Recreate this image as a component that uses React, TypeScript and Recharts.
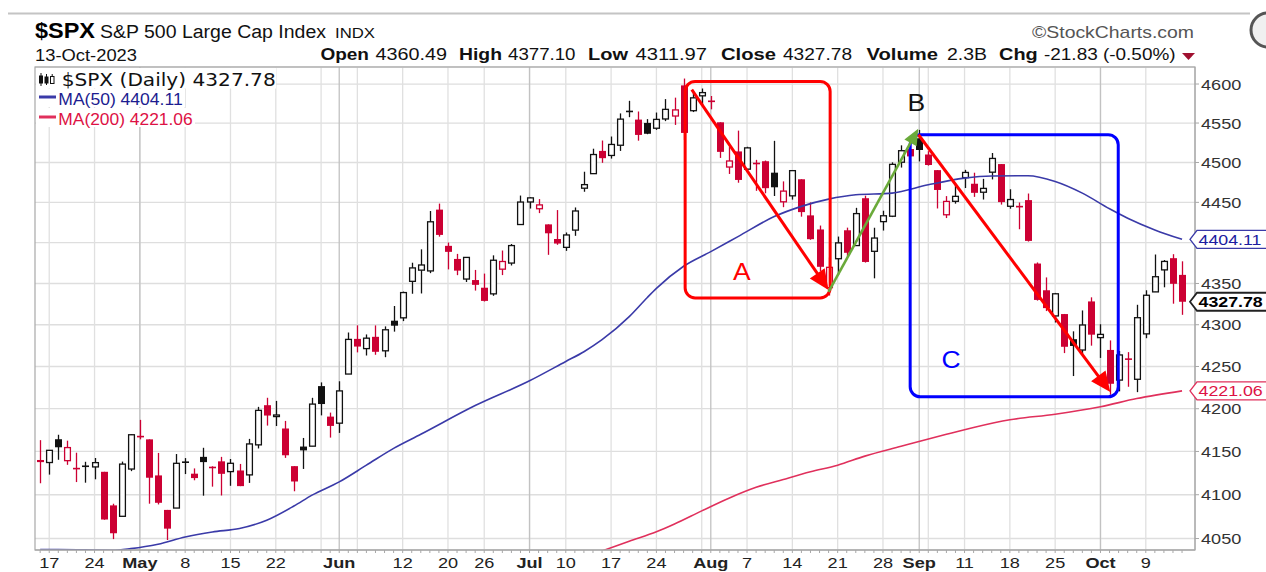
import React from "react";
import {
  ComposedChart,
  Bar,
  Line,
  XAxis,
  YAxis,
  CartesianGrid,
  ReferenceLine,
  ReferenceArea,
  ReferenceDot,
} from "recharts";

// daily candles, 14-Apr-2023 .. 13-Oct-2023 (index = trading day)
const opens = [
  4140.11, 4137.17, 4164.26, 4139.33, 4130.48, 4132.14, 4132.07, 4126.43, 4087.78, 4075.29,
  4129.63, 4166.79, 4164.1, 4122.25, 4082.61, 4084.73, 4136.98, 4124.25, 4143.74, 4132.24,
  4138.54, 4126.65, 4127.95, 4122.85, 4157.68, 4204.15, 4190.78, 4176.8, 4132.96, 4155.71,
  4156.16, 4226.71, 4190.74, 4183.03, 4241.01, 4282.99, 4271.34, 4285.47, 4268.69, 4304.88,
  4308.32, 4352.61, 4366.29, 4365.33, 4440.95, 4396.11, 4380.01, 4355.4, 4354.17, 4344.84,
  4337.36, 4367.48, 4374.94, 4422.44, 4450.48, 4442.04, 4422.62, 4404.54, 4394.23, 4415.55,
  4467.69, 4485.93, 4514.61, 4508.86, 4521.78, 4563.87, 4554.38, 4550.16, 4543.39, 4555.19,
  4558.96, 4598.26, 4565.75, 4584.82, 4578.83, 4550.93, 4494.27, 4513.96, 4491.58, 4498.03,
  4501.57, 4487.16, 4450.69, 4458.13, 4478.87, 4433.79, 4416.32, 4344.88, 4380.28, 4415.33,
  4396.44, 4455.16, 4389.38, 4426.03, 4432.75, 4500.34, 4517.01, 4530.6, 4510.06, 4490.35,
  4434.55, 4451.3, 4480.98, 4473.27, 4462.65, 4487.78, 4497.98, 4445.13, 4445.41, 4452.81,
  4374.36, 4341.74, 4310.62, 4312.88, 4282.63, 4269.65, 4328.18, 4284.52, 4269.75, 4233.83,
  4259.31, 4234.79, 4289.02, 4339.75, 4366.59, 4380.94, 4360.49,
];
const highs = [
  4163.19, 4151.72, 4169.48, 4162.57, 4148.57, 4138.02, 4142.41, 4126.43, 4089.67, 4138.24,
  4170.06, 4186.92, 4164.1, 4148.3, 4082.61, 4147.02, 4142.3, 4130.35, 4154.28, 4132.8,
  4143.74, 4141.25, 4135.54, 4164.67, 4202.2, 4212.91, 4209.22, 4185.68, 4132.96, 4165.74,
  4212.87, 4231.1, 4195.44, 4232.43, 4290.67, 4299.28, 4288.33, 4299.19, 4298.01, 4322.62,
  4340.13, 4375.37, 4391.82, 4439.2, 4448.47, 4400.15, 4386.22, 4382.25, 4366.55, 4362.06,
  4384.42, 4390.35, 4398.39, 4458.48, 4456.46, 4454.06, 4422.62, 4440.39, 4412.6, 4443.64,
  4488.34, 4517.38, 4527.76, 4532.85, 4562.3, 4578.43, 4564.74, 4555.0, 4563.41, 4580.62,
  4582.47, 4607.07, 4590.16, 4594.22, 4584.62, 4550.93, 4519.49, 4540.34, 4519.84, 4503.31,
  4502.44, 4527.37, 4476.23, 4490.33, 4478.87, 4449.95, 4421.17, 4381.82, 4407.55, 4418.59,
  4443.18, 4458.3, 4418.46, 4439.56, 4500.14, 4521.65, 4532.26, 4541.25, 4514.29, 4490.35,
  4457.81, 4473.53, 4490.77, 4487.11, 4479.39, 4511.99, 4497.98, 4466.36, 4449.85, 4461.03,
  4375.7, 4357.4, 4338.51, 4313.01, 4292.07, 4317.27, 4333.15, 4300.58, 4281.15, 4268.5,
  4267.13, 4324.1, 4341.73, 4385.46, 4378.64, 4385.85, 4377.1,
];
const lows = [
  4113.2, 4123.18, 4140.36, 4134.49, 4114.57, 4113.86, 4117.77, 4071.38, 4049.35, 4075.29,
  4127.18, 4164.12, 4089.72, 4088.86, 4048.28, 4084.73, 4123.81, 4116.65, 4098.92, 4109.29,
  4099.12, 4110.27, 4109.86, 4113.62, 4153.5, 4180.2, 4179.68, 4142.54, 4103.98, 4129.73,
  4156.16, 4192.18, 4166.15, 4171.64, 4241.01, 4266.82, 4263.09, 4263.96, 4261.07, 4291.7,
  4304.37, 4337.51, 4337.85, 4362.6, 4407.44, 4367.19, 4360.14, 4351.82, 4341.34, 4328.08,
  4335.0, 4360.22, 4371.97, 4422.44, 4442.29, 4436.61, 4385.05, 4397.4, 4389.92, 4408.46,
  4463.23, 4485.93, 4499.56, 4504.9, 4514.59, 4557.48, 4527.56, 4535.79, 4541.29, 4552.42,
  4547.58, 4528.56, 4564.01, 4573.14, 4567.53, 4505.75, 4485.54, 4474.55, 4491.15, 4464.39,
  4461.33, 4457.92, 4443.98, 4453.44, 4432.19, 4403.55, 4364.83, 4335.31, 4360.3, 4382.77,
  4396.44, 4375.55, 4356.29, 4414.98, 4431.68, 4493.59, 4507.39, 4501.35, 4496.01, 4442.38,
  4430.46, 4448.38, 4467.89, 4456.83, 4453.52, 4478.69, 4447.21, 4442.11, 4416.61, 4401.38,
  4329.17, 4316.49, 4302.7, 4265.98, 4238.63, 4264.38, 4274.86, 4260.21, 4216.45, 4220.48,
  4225.91, 4219.55, 4283.79, 4339.64, 4345.34, 4325.43, 4311.97,
];
const closes = [
  4137.64, 4151.32, 4154.87, 4154.52, 4129.79, 4133.52, 4137.04, 4071.63, 4055.99, 4135.35,
  4169.48, 4167.87, 4119.58, 4090.75, 4061.22, 4136.25, 4138.12, 4119.17, 4137.64, 4130.62,
  4124.08, 4136.28, 4109.9, 4158.77, 4198.05, 4191.98, 4192.63, 4145.58, 4115.24, 4151.28,
  4205.45, 4205.52, 4179.83, 4221.02, 4282.37, 4273.79, 4283.85, 4267.52, 4293.93, 4298.86,
  4338.93, 4369.01, 4372.59, 4425.84, 4409.59, 4388.71, 4365.69, 4381.89, 4348.33, 4328.82,
  4378.41, 4376.86, 4396.44, 4450.38, 4455.59, 4446.82, 4411.59, 4398.95, 4409.53, 4439.26,
  4472.16, 4510.04, 4505.42, 4522.79, 4554.98, 4565.72, 4534.87, 4536.34, 4554.64, 4567.46,
  4566.75, 4537.41, 4582.23, 4588.96, 4576.73, 4513.39, 4501.89, 4478.03, 4518.44, 4499.38,
  4467.71, 4468.83, 4464.05, 4489.72, 4437.86, 4404.33, 4370.36, 4369.71, 4399.77, 4387.55,
  4436.01, 4376.31, 4405.71, 4433.31, 4497.63, 4514.87, 4507.66, 4515.77, 4496.83, 4465.48,
  4451.14, 4457.49, 4487.46, 4461.9, 4467.44, 4505.1, 4450.32, 4453.53, 4443.95, 4402.2,
  4330.0, 4320.06, 4337.44, 4273.53, 4274.51, 4299.7, 4288.05, 4288.39, 4229.45, 4263.75,
  4258.19, 4308.5, 4335.66, 4358.24, 4376.95, 4349.61, 4327.78,
];
const priorClose = 4146.22; // 13-Apr close, for the colour of the first candle

// moving averages at these trading days
const ma50Days = [0, 2, 8, 10, 13, 16, 19, 22, 25, 28, 30, 33, 36, 39, 42, 48, 54, 58, 60, 62, 65, 67, 68, 71, 74, 77, 81, 84, 87, 90, 94, 98, 102, 105, 109, 112, 115, 118, 120, 123, 126];
const ma50Values = [4037.5, 4037.5, 4036.8, 4038.6, 4043.5, 4051.8, 4057.5, 4061.4, 4070.8, 4087, 4099.5, 4114.8, 4134.1, 4153.6, 4170, 4203.7, 4233, 4256, 4267.6, 4282, 4309.8, 4333, 4344, 4371, 4389, 4407.5, 4432.3, 4445, 4454, 4459.4, 4461.5, 4471.9, 4480.3, 4483, 4483.3, 4476.1, 4461.5, 4442, 4430.3, 4415.8, 4404.11];
const ma200Days = [62, 65, 68, 70, 73, 76, 79, 82, 85, 88, 91, 95, 100, 103, 107, 112, 117, 121, 126];
const ma200Values = [4035.9, 4047, 4057.6, 4066.5, 4081.5, 4096, 4108.5, 4117.6, 4126.4, 4134.1, 4144.6, 4156, 4170, 4178, 4187, 4193.5, 4202.3, 4212, 4221.06];

const weekDays = [1, 6, 11, 16, 21, 26, 31, 35, 40, 45, 49, 54, 58, 63, 68, 73, 78, 83, 88, 93, 98, 102, 107, 112, 117, 122];
const monthDays = [11, 33, 54, 74, 97, 117];
const xLabelDays = [1, 6, 11, 16, 21, 26, 33, 40, 45, 49, 54, 58, 63, 68, 74, 78, 83, 88, 93, 97, 102, 107, 112, 117, 122];
const xLabels = ["17", "24", "May", "8", "15", "22", "Jun", "12", "20", "26", "Jul", "10", "17", "24", "Aug", "7", "14", "21", "28", "Sep", "11", "18", "25", "Oct", "9"];
const priceTicks = [4050, 4100, 4150, 4200, 4250, 4300, 4350, 4400, 4450, 4500, 4550, 4600];
const hiddenPriceTicks = [4400];

const RED = "#cc0033";
const BLACK = "#111";
const MA50_COLOR = "#3a3aa8";
const MA200_COLOR = "#e0305c";
const SANS = "'Liberation Sans', Arial, sans-serif";
const SX = 1.17;

const X_DOMAIN: [number, number] = [-0.57, 127.43];
const Y_DOMAIN: [number, number] = [4037, 4622];

const rows = closes.map((c, i) => {
  const k50 = ma50Days.indexOf(i);
  const k200 = ma200Days.indexOf(i);
  return {
    day: i,
    open: opens[i],
    high: highs[i],
    low: lows[i],
    close: c,
    prevClose: i === 0 ? priorClose : closes[i - 1],
    range: [lows[i], highs[i]],
    ma50: k50 >= 0 ? ma50Values[k50] : null,
    ma200: k200 >= 0 ? ma200Values[k200] : null,
  };
});
const allDays = rows.map((r) => r.day);
const last = rows[rows.length - 1];
const chg = last.close - last.prevClose;

function Candle(props: any) {
  const { x, y, width, height, payload } = props;
  if (x == null || !payload) return <g />;
  const { open, high, low, close, prevClose } = payload;
  const cx = Math.round(x + width / 2) + 0.5;
  const top = y;
  const bottom = y + height;
  const lh = Math.log(high);
  const ll = Math.log(low);
  const toY = (v: number) =>
    lh === ll ? top : top + ((lh - Math.log(v)) / (lh - ll)) * (bottom - top);
  const color = close >= prevClose ? BLACK : RED;
  const hollow = close >= open;
  const yO = toY(open);
  const yC = toY(close);
  const bTop = Math.min(yO, yC);
  const bBot = Math.max(yO, yC);
  const half = 3.5;
  let body;
  if (bBot - bTop < 1.5) {
    body = <line x1={cx - half} x2={cx + half} y1={(bTop + bBot) / 2} y2={(bTop + bBot) / 2} stroke={color} strokeWidth={1.6} />;
  } else if (hollow) {
    body = <rect x={cx - half + 0.6} y={bTop} width={2 * half - 1.2} height={bBot - bTop} fill="#fff" stroke={color} strokeWidth={1.3} />;
  } else {
    body = <rect x={cx - half} y={bTop} width={2 * half} height={bBot - bTop} fill={color} />;
  }
  return (
    <g>
      <line x1={cx} x2={cx} y1={top} y2={bottom} stroke={color} strokeWidth={1.3} />
      {body}
    </g>
  );
}

function PriceTick(props: any) {
  const { x, y, payload } = props;
  if (hiddenPriceTicks.includes(payload.value)) return <g />;
  return (
    <text transform={`translate(${x},${y + 5.5}) scale(${SX},1)`} fontSize={15.5} fill="#333" fontFamily={SANS}>
      {payload.value}
    </text>
  );
}

function DayTick(props: any) {
  const { x, y, payload } = props;
  const k = xLabelDays.indexOf(payload.value);
  if (k < 0) return <g />;
  const lab = xLabels[k];
  const bold = /[A-Za-z]/.test(lab);
  return (
    <text transform={`translate(${x},${y + 13}) scale(${SX},1)`} textAnchor="middle" fontSize={15.5} fontWeight={bold ? 700 : 400} fill="#222" fontFamily={SANS}>
      {lab}
    </text>
  );
}

function arrowShape(color: string, w: number, head: number, half: number) {
  return (p: any) => {
    const { x1, y1, x2, y2 } = p;
    const dx = x2 - x1;
    const dy = y2 - y1;
    const len = Math.hypot(dx, dy) || 1;
    const ux = dx / len;
    const uy = dy / len;
    const bx = x2 - ux * head;
    const by = y2 - uy * head;
    return (
      <g>
        <line x1={x1} y1={y1} x2={bx + ux} y2={by + uy} stroke={color} strokeWidth={w} />
        <polygon points={`${x2},${y2} ${bx - uy * half},${by + ux * half} ${bx + uy * half},${by - ux * half}`} fill={color} />
      </g>
    );
  };
}

function boxShape(color: string) {
  return (p: any) => (
    <rect x={p.x} y={p.y} width={p.width} height={p.height} rx={10} ry={10} fill="none" stroke={color} strokeWidth={3} />
  );
}

function letterShape(text: string, color: string) {
  return (p: any) => (
    <text transform={`translate(${p.cx},${p.cy + 8}) scale(1.15,1)`} textAnchor="middle" fontSize={23} fill={color} fontFamily={SANS}>
      {text}
    </text>
  );
}

function tagShape(value: string, stroke: string, color: string, bold: boolean) {
  return (p: any) => {
    const x0 = p.cx - 5;
    const cy = p.cy;
    const h = 9;
    return (
      <g>
        <polygon points={`${x0},${cy} ${x0 + 7},${cy - h} ${x0 + 90},${cy - h} ${x0 + 90},${cy + h} ${x0 + 7},${cy + h}`} fill="#fff" stroke={stroke} strokeWidth={bold ? 1.8 : 1.4} />
        <text transform={`translate(${x0 + 8.5},${cy + 5.5}) scale(${SX},1)`} fontSize={15.2} fontWeight={bold ? 700 : 400} fill={color} fontFamily={SANS}>
          {value}
        </text>
      </g>
    );
  };
}

const headerParts: [string, number, number, boolean][] = [
  ["Open", 320.4, 48.6, true],
  [last.open.toFixed(2), 375.5, 71.5, false],
  ["High", 459, 43, true],
  [last.high.toFixed(2), 508, 67.5, false],
  ["Low", 588, 40, true],
  [last.low.toFixed(2), 635.5, 71.5, false],
  ["Close", 721, 55, true],
  [last.close.toFixed(2), 783, 69, false],
  ["Volume", 866.5, 71.5, true],
  ["2.3B", 947, 40, false],
  ["Chg", 999, 38.7, true],
  [`${chg.toFixed(2)} (${((chg / last.prevClose) * 100).toFixed(2)}%)`, 1044, 131.6, false],
];

function Header() {
  return (
    <svg width={1266} height={66} style={{ position: "absolute", left: 0, top: 0 }}>
      <line x1={8} x2={1250} y1={13.5} y2={13.5} stroke="#c4c4c4" strokeWidth={2} />
      <circle cx={1268} cy={30} r={17} fill="#f0f0f0" stroke="#555" strokeWidth={3} />
      <text x={35} y={38} fontSize={22} fontWeight={700} fontFamily={SANS} textLength={60} lengthAdjust="spacingAndGlyphs">$SPX</text>
      <text x={100} y={38} fontSize={18} fontFamily={SANS} fill="#111" textLength={226} lengthAdjust="spacingAndGlyphs">S&amp;P 500 Large Cap Index</text>
      <text x={335} y={38} fontSize={15} fontFamily={SANS} fill="#111" textLength={40} lengthAdjust="spacingAndGlyphs">INDX</text>
      <text x={35} y={61} fontSize={16} fontFamily={SANS} fill="#111" textLength={102} lengthAdjust="spacingAndGlyphs">13-Oct-2023</text>
      {headerParts.map(([t, x, w, b]) => (
        <text key={t + x} x={x} y={60} fontSize={17} fontWeight={b ? 700 : 400} fontFamily={SANS} fill="#111" textLength={w} lengthAdjust="spacingAndGlyphs">
          {t}
        </text>
      ))}
      <polygon points="1182,53 1195,53 1188.5,60" fill="#a01030" />
      <text x={1032} y={38} fontSize={17} fontFamily={SANS} fill="#555" textLength={162} lengthAdjust="spacingAndGlyphs">{"\u00A9StockCharts.com"}</text>
    </svg>
  );
}

function Legend() {
  return (
    <svg width={300} height={135} style={{ position: "absolute", left: 0, top: 0, pointerEvents: "none" }}>
      <rect x={36} y={68} width={240} height={20.5} fill="#fff" />
      <rect x={36} y={89} width={149} height={18} fill="#fff" />
      <rect x={36} y={108} width={159} height={19} fill="#fff" />
      <g fill="#111" stroke="#111" strokeWidth={1}>
        <line x1={41} x2={41} y1={73} y2={86} />
        <rect x={39.5} y={76} width={3} height={7} />
        <line x1={46.5} x2={46.5} y1={74} y2={85} />
        <rect x={45} y={77} width={3} height={6} />
        <rect x={50.5} y={76.5} width={3.5} height={7} fill="#fff" />
        <line x1={52.2} x2={52.2} y1={74} y2={76.5} />
      </g>
      <text x={61.7} y={86} fontSize={17.5} fontFamily="'DejaVu Sans', Verdana, sans-serif" fill="#111" textLength={214} lengthAdjust="spacingAndGlyphs">
        $SPX (Daily) {last.close.toFixed(2)}
      </text>
      <line x1={39} x2={56} y1={97} y2={97} stroke={MA50_COLOR} strokeWidth={3} />
      <text x={58.3} y={105} fontSize={16} fontFamily={SANS} fill="#1c1c90" textLength={124.4} lengthAdjust="spacingAndGlyphs">
        MA(50) {ma50Values[ma50Values.length - 1].toFixed(2)}
      </text>
      <line x1={39} x2={56} y1={117} y2={117} stroke={MA200_COLOR} strokeWidth={3} />
      <text x={58.3} y={125} fontSize={16} fontFamily={SANS} fill="#dd1144" textLength={134.4} lengthAdjust="spacingAndGlyphs">
        MA(200) {ma200Values[ma200Values.length - 1].toFixed(2)}
      </text>
    </svg>
  );
}

export default function App() {
  const lastMa50 = ma50Values[ma50Values.length - 1];
  const lastMa200 = ma200Values[ma200Values.length - 1];
  return (
    <div style={{ position: "absolute", left: 0, top: 0, width: 1266, height: 572, background: "#fff", overflow: "hidden" }}>
      <ComposedChart width={1266} height={572} data={rows} margin={{ top: 67, right: 0, bottom: 0, left: 35 }}>
        <CartesianGrid vertical={false} stroke="#dedede" strokeWidth={1.3} />
        {weekDays.map((d) => (
          <ReferenceLine key={"w" + d} x={d} stroke="#e0e0e0" strokeWidth={1.3} zIndex={-100} />
        ))}
        {monthDays.map((d) => (
          <ReferenceLine key={"m" + d} x={d} stroke="#c2c2c2" strokeWidth={1.3} zIndex={-100} />
        ))}
        <XAxis
          dataKey="day"
          type="number"
          domain={X_DOMAIN}
          allowDataOverflow
          ticks={allDays}
          interval={0}
          height={22}
          tickSize={3}
          tickMargin={2}
          stroke="#a8a8a8"
          tick={<DayTick />}
        />
        <YAxis
          orientation="right"
          scale="log"
          domain={Y_DOMAIN}
          allowDataOverflow
          ticks={priceTicks}
          interval={0}
          width={71}
          tickSize={4}
          tickMargin={2}
          stroke="#a8a8a8"
          tick={<PriceTick />}
        />
        <Bar dataKey="range" barSize={7} isAnimationActive={false} shape={(p: any) => <Candle {...p} />} />
        <Line dataKey="ma50" type="monotone" stroke={MA50_COLOR} strokeWidth={1.6} dot={false} connectNulls isAnimationActive={false} />
        <Line dataKey="ma200" type="monotone" stroke={MA200_COLOR} strokeWidth={1.6} dot={false} connectNulls isAnimationActive={false} />
        <ReferenceArea x1={X_DOMAIN[0]} x2={X_DOMAIN[1]} y1={Y_DOMAIN[0]} y2={Y_DOMAIN[1]} ifOverflow="visible" zIndex={700} shape={(p: any) => <rect x={p.x} y={p.y} width={p.width} height={p.height} fill="none" stroke="#a8a8a8" strokeWidth={1.2} />} />
        <ReferenceArea x1={71.17} x2={87.17} y1={4332.4} y2={4603.4} ifOverflow="visible" zIndex={1500} shape={boxShape("#ff0000")} />
        <ReferenceArea x1={96.0} x2={118.96} y1={4214.1} y2={4535.1} ifOverflow="visible" zIndex={1500} shape={boxShape("#0000ff")} />
        <ReferenceLine segment={[{ x: 71.9, y: 4592.7 }, { x: 86.99, y: 4342.2 }]} ifOverflow="visible" zIndex={1500} shape={arrowShape("#ff0000", 3, 20, 9)} />
        <ReferenceLine segment={[{ x: 86.99, y: 4339.7 }, { x: 96.89, y: 4542.7 }]} ifOverflow="visible" zIndex={1500} shape={arrowShape("#6aaa3a", 2.6, 16, 7)} />
        <ReferenceLine segment={[{ x: 96.92, y: 4535.1 }, { x: 118.08, y: 4219.7 }]} ifOverflow="visible" zIndex={1500} shape={arrowShape("#ff0000", 3, 20, 9)} />
        <ReferenceDot x={77.43} y={4364.5} r={0} ifOverflow="visible" zIndex={1500} shape={letterShape("A", "#ff0000")} />
        <ReferenceDot x={96.67} y={4576} r={0} ifOverflow="visible" zIndex={1500} shape={letterShape("B", "#111")} />
        <ReferenceDot x={100.5} y={4257.7} r={0} ifOverflow="visible" zIndex={1500} shape={letterShape("C", "#0000ff")} />
        <ReferenceDot x={X_DOMAIN[1]} y={lastMa50} r={0} ifOverflow="visible" zIndex={1600} shape={tagShape(lastMa50.toFixed(2), MA50_COLOR, "#1c1ca0", false)} />
        <ReferenceDot x={X_DOMAIN[1]} y={last.close} r={0} ifOverflow="visible" zIndex={1600} shape={tagShape(last.close.toFixed(2), "#222", "#000", true)} />
        <ReferenceDot x={X_DOMAIN[1]} y={lastMa200} r={0} ifOverflow="visible" zIndex={1600} shape={tagShape(lastMa200.toFixed(2), MA200_COLOR, "#dd1144", false)} />
      </ComposedChart>
      <Header />
      <Legend />
    </div>
  );
}
